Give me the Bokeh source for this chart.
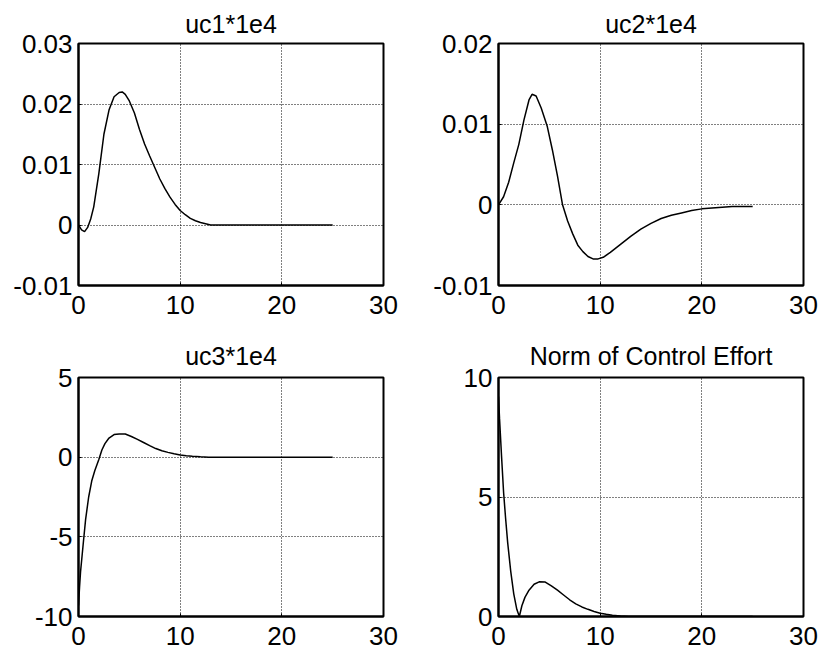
from bokeh.plotting import figure
from bokeh.layouts import column, row
from bokeh.models import FixedTicker, Range1d
from bokeh.embed import file_html
from bokeh.resources import INLINE

# ---- data ----
t_uc1 = [0, 0.3, 0.6, 0.9, 1.2, 1.5, 2.0, 2.5, 3.0, 3.5, 4.0, 4.3, 4.6, 5.0, 5.5, 6.0,
         6.5, 7.0, 7.5, 8.0, 8.5, 9.0, 9.5, 10.0, 10.5, 11.0, 11.5, 12.0, 12.5, 13.0, 25.0]
uc1 = [0, -0.0008, -0.0011, -0.0004, 0.001, 0.003, 0.0085, 0.0150, 0.0190, 0.0212, 0.0219,
       0.0220, 0.0216, 0.0205, 0.0185, 0.0158, 0.0134, 0.0114, 0.0095, 0.0076, 0.0060,
       0.0046, 0.0034, 0.0024, 0.0017, 0.0011, 0.0007, 0.0004, 0.0002, 0.0, 0.0]

t_uc2 = [0, 0.5, 1.0, 1.5, 2.0, 2.5, 3.0, 3.3, 3.7, 4.2, 4.8, 5.3, 5.8, 6.3, 6.8, 7.3,
         7.8, 8.3, 8.8, 9.3, 9.8, 10.3, 11.0, 12.0, 13.0, 14.0, 15.0, 16.0, 17.0, 18.0,
         19.0, 20.0, 21.0, 22.0, 23.0, 24.0, 25.0]
uc2 = [0, 0.001, 0.0028, 0.0052, 0.0075, 0.0105, 0.0130, 0.0137, 0.0135, 0.0120, 0.0097,
       0.0068, 0.0036, 0.0, -0.0020, -0.0036, -0.0050, -0.0058, -0.0064, -0.0067, -0.0067,
       -0.0065, -0.0059, -0.0049, -0.0039, -0.0030, -0.0023, -0.0017, -0.0013, -0.0010,
       -0.0007, -0.0005, -0.0004, -0.0003, -0.0002, -0.0002, -0.0002]

t_uc3 = [0, 0.1, 0.2, 0.35, 0.5, 0.7, 1.0, 1.3, 1.6, 2.0, 2.3, 2.6, 3.0, 3.5, 4.0, 4.6,
         5.2, 5.8, 6.4, 7.0, 7.6, 8.2, 8.8, 9.4, 10.0, 10.6, 11.2, 12.0, 12.8, 25.0]
uc3 = [-9.3, -8.2, -7.2, -6.2, -5.2, -3.9, -2.5, -1.5, -0.85, -0.15, 0.45, 0.85, 1.2, 1.42,
       1.46, 1.45, 1.3, 1.12, 0.92, 0.72, 0.54, 0.4, 0.3, 0.21, 0.14, 0.09, 0.05, 0.02, 0, 0]

t_norm = [0, 0.1, 0.3, 0.5, 0.7, 0.9, 1.2, 1.5, 1.8, 2.05, 2.3, 2.6, 3.0, 3.5, 4.0, 4.6,
          5.2, 5.8, 6.4, 7.0, 7.6, 8.2, 8.8, 9.4, 10.0, 10.6, 11.2, 12.0, 12.8, 25.0]
norm = [9.2, 8.3, 6.7, 5.2, 4.1, 3.1, 1.9, 0.95, 0.3, 0.0, 0.45, 0.8, 1.1, 1.35, 1.45, 1.44,
        1.28, 1.1, 0.9, 0.7, 0.53, 0.4, 0.3, 0.21, 0.14, 0.09, 0.05, 0.02, 0, 0]

titles = ["uc1*1e4", "uc2*1e4", "uc3*1e4", "Norm of Control Effort"]

x_ticks = [0, 10, 20, 30]
x_tick_labels = ["0", "10", "20", "30"]

y1_ticks = [-0.01, 0, 0.01, 0.02, 0.03]
y1_tick_labels = ["-0.01", "0", "0.01", "0.02", "0.03"]
y2_ticks = [-0.01, 0, 0.01, 0.02]
y2_tick_labels = ["-0.01", "0", "0.01", "0.02"]
y3_ticks = [-10, -5, 0, 5]
y3_tick_labels = ["-10", "-5", "0", "5"]
y4_ticks = [0, 5, 10]
y4_tick_labels = ["0", "5", "10"]

FONT = "Liberation Sans"


def make(title, t, y, yr, yt, ytl, frame_h, bl, br, bt, bb, title_standoff, x_standoff):
    p = figure(frame_width=305, frame_height=frame_h,
               x_range=Range1d(0, 30), y_range=Range1d(*yr),
               output_backend="svg", toolbar_location=None,
               min_border_left=bl, min_border_right=br,
               min_border_top=bt, min_border_bottom=bb,
               background_fill_color="white", border_fill_color="white")
    p.title.text = title
    p.title.text_font = FONT
    p.title.text_font_size = "25px"
    p.title.text_font_style = "normal"
    p.title.align = "center"
    p.title.text_color = "black"
    p.title.standoff = title_standoff

    p.outline_line_color = "black"
    p.outline_line_width = 2
    p.outline_line_alpha = 1.0

    p.xaxis.ticker = FixedTicker(ticks=x_ticks)
    p.xaxis.major_label_overrides = {v: s for v, s in zip(x_ticks, x_tick_labels)}
    p.yaxis.ticker = FixedTicker(ticks=yt)
    p.yaxis.major_label_overrides = {v: s for v, s in zip(yt, ytl)}

    for ax in (p.xaxis[0], p.yaxis[0]):
        ax.axis_line_color = "black"
        ax.axis_line_width = 2
        ax.major_tick_in = 3
        ax.major_tick_out = 0
        ax.major_tick_line_color = "black"
        ax.minor_tick_line_color = None
        ax.major_label_text_font = FONT
        ax.major_label_text_font_size = "26px"
        ax.major_label_text_color = "black"
    p.xaxis[0].major_label_standoff = x_standoff
    p.yaxis[0].major_label_standoff = 6

    p.xgrid.ticker = FixedTicker(ticks=x_ticks)
    p.ygrid.ticker = FixedTicker(ticks=yt)
    for g in (p.xgrid[0], p.ygrid[0]):
        g.grid_line_color = "black"
        g.grid_line_dash = "1 2"
        g.grid_line_width = 1
        g.grid_line_alpha = 1.0

    p.line(t, y, line_color="black", line_width=1.5)
    return p


p1 = make(titles[0], t_uc1, uc1, (-0.01, 0.03), y1_ticks, y1_tick_labels, 242, 78, 20, 43, 40, 12, 10)
p2 = make(titles[1], t_uc2, uc2, (-0.01, 0.02), y2_ticks, y2_tick_labels, 242, 95, 19, 43, 40, 12, 10)
p3 = make(titles[2], t_uc3, uc3, (-10, 5), y3_ticks, y3_tick_labels, 239, 78, 20, 52, 41, 16, 10)
p4 = make(titles[3], t_norm, norm, (0, 10), y4_ticks, y4_tick_labels, 239, 95, 19, 52, 41, 16, 10)

layout = column(row(p1, p2, spacing=0), row(p3, p4, spacing=0), spacing=0)

open("out.html", "w").write(file_html(layout, INLINE))
